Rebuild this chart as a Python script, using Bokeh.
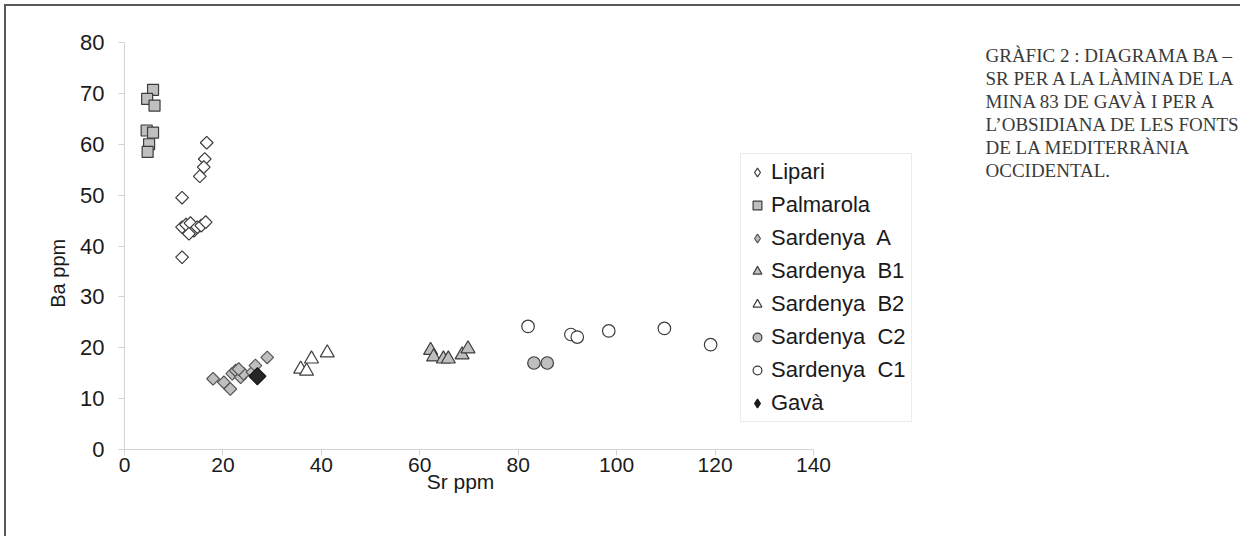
import numpy as np
from bokeh.plotting import figure
from bokeh.models import Range1d, Legend, LegendItem, Label, FixedTicker
from bokeh.embed import file_html
from bokeh.resources import INLINE

# ---- data (Sr ppm, Ba ppm) ----
lipari_sr = [16.7, 16.3, 16.1, 15.3, 11.7, 11.7, 12.5, 13.4, 14.1, 14.8, 15.6, 16.5, 13.1, 11.7]
lipari_ba = [60.3, 57.1, 55.5, 53.7, 49.5, 43.7, 44.2, 44.5, 43.0, 43.7, 44.0, 44.7, 42.4, 37.8]
palmarola_sr = [5.8, 4.6, 6.1, 4.5, 5.8, 5.0, 4.7]
palmarola_ba = [70.7, 68.9, 67.6, 62.7, 62.3, 60.0, 58.5]
sard_a_sr = [18.0, 20.2, 21.5, 21.9, 22.6, 23.6, 24.2, 23.2, 26.0, 26.6, 29.0]
sard_a_ba = [13.9, 13.2, 11.9, 14.9, 15.5, 14.2, 14.9, 15.8, 15.2, 16.5, 18.1]
sard_b1_sr = [62.2, 62.8, 64.8, 65.8, 68.6, 69.8]
sard_b1_ba = [19.5, 18.2, 17.8, 17.8, 18.6, 19.8]
sard_b2_sr = [35.8, 37.0, 38.0, 41.2]
sard_b2_ba = [15.8, 15.4, 17.8, 19.0]
sard_c2_sr = [83.2, 85.9]
sard_c2_ba = [17.0, 17.0]
sard_c1_sr = [82.0, 90.7, 92.0, 98.4, 109.7, 119.1]
sard_c1_ba = [24.2, 22.6, 22.1, 23.3, 23.8, 20.6]
gava_sr = [27.0]
gava_ba = [14.4]

x_ticks = [0, 20, 40, 60, 80, 100, 120, 140]
y_ticks = [0, 10, 20, 30, 40, 50, 60, 70, 80]

title_lines = [
    "GRÀFIC 2 : DIAGRAMA BA –",
    "SR PER A LA LÀMINA DE LA",
    "MINA 83 DE GAVÀ I PER A",
    "L’OBSIDIANA DE LES FONTS",
    "DE LA MEDITERRÀNIA",
    "OCCIDENTAL.",
]

SANS = "Liberation Sans"
SERIF = "Liberation Serif"

# ---- geometry (canvas starts at page (6, 6)) ----
W, H = 1236, 532
OX, OY = 118, 443          # canvas position of data origin
PXX = 689 / 140.0          # px per Sr unit
PXY = 407 / 80.0           # px per Ba unit

p = figure(width=W, height=H, output_backend="svg", toolbar_location=None,
           x_range=Range1d(-OX / PXX, (W - OX) / PXX),
           y_range=Range1d(-(H - OY) / PXY, OY / PXY),
           min_border=0)
p.styles = {"margin-left": "4px", "margin-top": "4px",
            "border-left": "2px solid #5a5a5a", "border-top": "2px solid #5a5a5a"}
p.outline_line_color = None
p.grid.visible = False
p.background_fill_color = "white"
p.border_fill_color = "white"

for ax in (p.xaxis[0], p.yaxis[0]):
    ax.fixed_location = 0
    ax.axis_line_color = "#d4d4d4"
    ax.major_tick_line_color = "#d4d4d4"
    ax.major_tick_out = 6
    ax.major_tick_in = 0
    ax.minor_tick_line_color = None
    ax.major_label_text_font = SANS
    ax.major_label_text_color = "#1a1a1a"
p.xaxis.bounds = (0, 140)
p.yaxis.bounds = (0, 80)
p.xaxis.ticker = FixedTicker(ticks=x_ticks)
p.yaxis.ticker = FixedTicker(ticks=y_ticks)
p.xaxis.major_label_text_font_size = "21px"
p.yaxis.major_label_text_font_size = "22px"
p.xaxis.major_label_standoff = 2
p.yaxis.major_label_standoff = 14

ROT = np.pi / 4
GRAY = "#bfbfbf"
EDGE = "#3c3c3c"

# legend proxies (legend ignores marker rotation) - drawn at size 0 beneath the real marks
def proxy(xs, ys, marker, fill, line=EDGE):
    return p.scatter(xs, ys, marker=marker, size=0, fill_color=fill,
                     line_color=line, line_width=1.2)

l_lip = proxy(lipari_sr, lipari_ba, "diamond", "white")
l_a = proxy(sard_a_sr, sard_a_ba, "diamond", GRAY, "#555555")
l_g = proxy(gava_sr, gava_ba, "diamond", "#1a1a1a", "#1a1a1a")

r_pal = p.scatter(palmarola_sr, palmarola_ba, marker="square", size=11,
                  fill_color=GRAY, line_color=EDGE, line_width=1.2)
p.scatter(lipari_sr, lipari_ba, marker="square", angle=ROT, size=9,
          fill_color="white", line_color=EDGE, line_width=1.2)
p.scatter(sard_a_sr, sard_a_ba, marker="square", angle=ROT, size=9,
          fill_color=GRAY, line_color="#555555", line_width=1.2)
r_b2 = p.scatter(sard_b2_sr, sard_b2_ba, marker="triangle", size=14,
                 fill_color="white", line_color=EDGE, line_width=1.2)
r_b1 = p.scatter(sard_b1_sr, sard_b1_ba, marker="triangle", size=14,
                 fill_color=GRAY, line_color=EDGE, line_width=1.2)
r_c2 = p.scatter(sard_c2_sr, sard_c2_ba, marker="circle", size=12.5,
                 fill_color=GRAY, line_color=EDGE, line_width=1.2)
r_c1 = p.scatter(sard_c1_sr, sard_c1_ba, marker="circle", size=12.5,
                 fill_color="white", line_color=EDGE, line_width=1.2)
p.scatter(gava_sr, gava_ba, marker="square", angle=ROT, size=12,
          fill_color="#262626", line_color="#1a1a1a", line_width=1.2)

legend = Legend(items=[
    LegendItem(label="Lipari", renderers=[l_lip]),
    LegendItem(label="Palmarola", renderers=[r_pal]),
    LegendItem(label="Sardenya  A", renderers=[l_a]),
    LegendItem(label="Sardenya  B1", renderers=[r_b1]),
    LegendItem(label="Sardenya  B2", renderers=[r_b2]),
    LegendItem(label="Sardenya  C2", renderers=[r_c2]),
    LegendItem(label="Sardenya  C1", renderers=[r_c1]),
    LegendItem(label="Gavà", renderers=[l_g]),
], location=(734, H - 416))
legend.margin = 0
legend.padding = 5
legend.glyph_width = 22
legend.glyph_height = 24
legend.label_height = 24
legend.label_standoff = 3
legend.spacing = 7
legend.label_text_font = SANS
legend.label_text_font_size = "22px"
legend.label_text_color = "#1a1a1a"
legend.label_text_baseline = "middle"
legend.border_line_color = "#d9d9d9"
legend.border_line_width = 1
legend.background_fill_alpha = 1
p.add_layout(legend)

def dx(page_x):
    return (page_x - 6 - OX) / PXX

def dy(page_y):
    return (OY - (page_y - 6)) / PXY

p.add_layout(Label(x=dx(57), y=dy(270), text="Ba  ppm", angle=np.pi / 2,
                   text_align="center", text_baseline="middle",
                   text_font=SANS, text_font_size="20px", text_color="#1a1a1a"))
p.add_layout(Label(x=dx(460), y=dy(481), text="Sr ppm",
                   text_align="center", text_baseline="middle",
                   text_font=SANS, text_font_size="21px", text_color="#1a1a1a"))

line_y = [55, 78, 101, 124, 147, 170]
for t, yy in zip(title_lines, line_y):
    p.add_layout(Label(x=dx(985), y=dy(yy), text=t, text_align="left",
                       text_baseline="middle", text_font=SERIF,
                       text_font_size="19px", text_color="#3a3a3a"))

open("out.html", "w").write(file_html(p, INLINE))
